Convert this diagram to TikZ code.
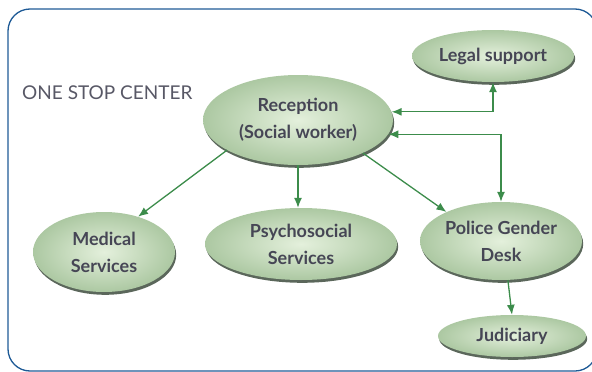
\documentclass[tikz,border=0pt]{standalone}
\usepackage{fontspec}
\setmainfont{Lato}
\usetikzlibrary{arrows.meta,shapes.geometric,shadows,calc}
\definecolor{framecol}{RGB}{30,90,150}
\definecolor{arrcol}{RGB}{60,140,75}
\definecolor{txtcol}{RGB}{70,70,85}
\definecolor{nodein}{RGB}{228,240,220}
\definecolor{nodeout}{RGB}{172,200,162}
\definecolor{shadowcol}{RGB}{50,65,50}
\begin{document}
\begin{tikzpicture}[x=1pt,y=-1pt,
  bubble/.style={ellipse, inner sep=0pt, inner color=nodein, outer color=nodeout,
    drop shadow={shadow xshift=1.2pt, shadow yshift=-2.8pt, fill=shadowcol, opacity=0.8},
    text=txtcol, align=center, font=\fontsize{18}{27}\selectfont\bfseries},
  conn/.style={draw=arrcol, line width=1.3pt, -{Latex[length=10pt,width=8pt]}},
  biconn/.style={draw=arrcol, line width=1.3pt, {Latex[length=10pt,width=8pt]}-{Latex[length=10pt,width=8pt]}}
]
\useasboundingbox (0,0) rectangle (592,372);
\begin{scope}
\clip (0,0) rectangle (592,372);
\draw[framecol, line width=1.3pt, rounded corners=22pt] (8,9) rectangle (597,371);
\end{scope}

\node[text=txtcol!90, font=\fontsize{19}{20}\selectfont, anchor=west, inner sep=0pt] (title) at (22,93) {ONE STOP CENTER};

\node[bubble, minimum width=190pt, minimum height=90pt] (rec) at (298,120) {Reception\\(Social worker)};
\node[bubble, minimum width=162pt, minimum height=52pt] (legal) at (493,56) {Legal support};
\node[bubble, minimum width=142pt, minimum height=80pt] (med) at (104,252) {Medical\\Services};
\node[bubble, minimum width=192pt, minimum height=72pt] (psy) at (301,244) {Psychosocial\\Services};
\node[bubble, minimum width=162pt, minimum height=78pt] (pol) at (501,241) {Police Gender\\Desk};
\node[bubble, minimum width=148pt, minimum height=42pt] (jud) at (512,336) {Judiciary};

\draw[conn] (rec.203) -- (med.46);
\draw[conn] (rec.south) -- (rec.south |- psy.north);
\draw[conn] (rec.333) -- (pol.152);
\draw[biconn] (legal.south) |- (rec.5);
\draw[biconn] (pol.north) |- (rec.-9);
\draw[conn] (pol.-80) -- (jud.north);
\end{tikzpicture}
\end{document}
